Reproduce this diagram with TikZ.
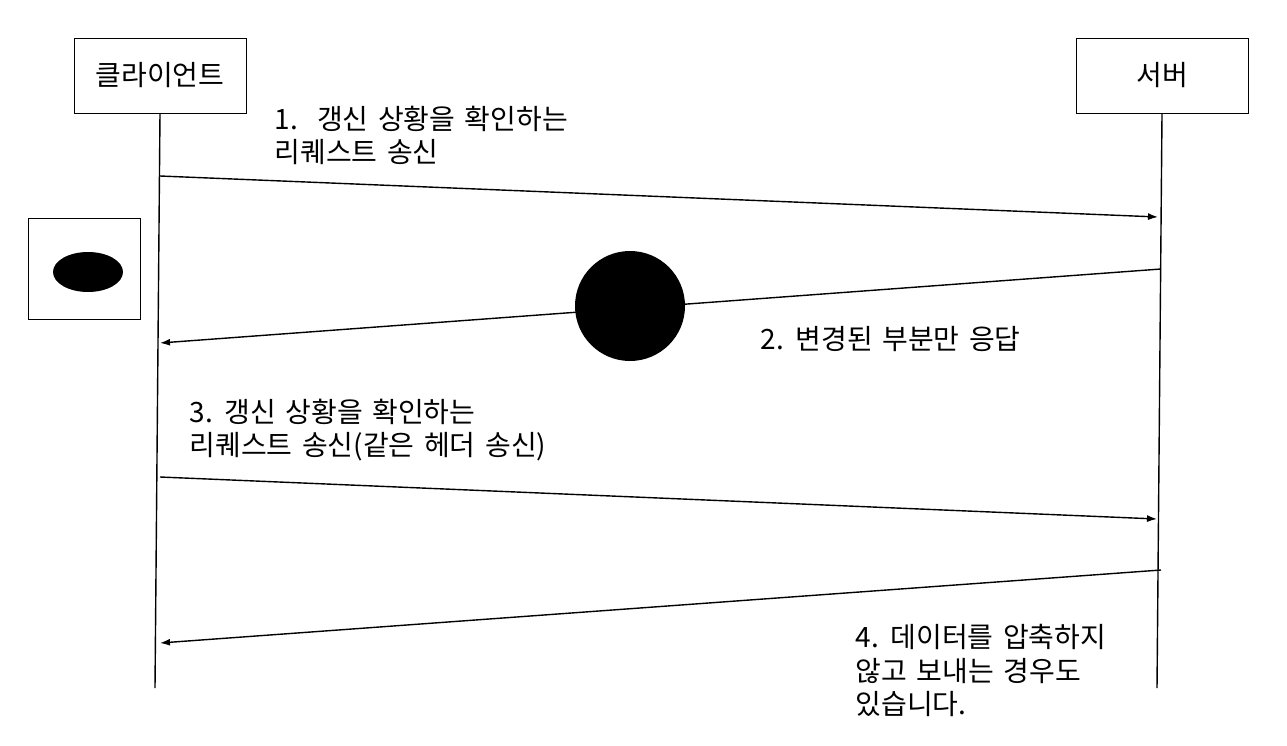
\documentclass[tikz,border=0pt]{standalone}
\usepackage{fontspec}
\setmainfont{Noto Sans CJK KR}
\usetikzlibrary{arrows.meta}
\newcommand\notefont{\fontsize{28}{33.5}\selectfont\spaceskip 9.5pt\relax}
\tikzset{
    actor/.style={draw,line width=0.8pt,minimum width=172pt,minimum height=75pt,inner sep=0pt,
        font=\fontsize{28}{33}\selectfont},
    msg/.style={line width=1.4pt,-{Latex[length=10pt,width=7pt]}},
    note/.style={align=left,anchor=north west,inner sep=0pt,font=\notefont}
}
\begin{document}
\begin{tikzpicture}[x=1pt,y=-1pt,line width=1.4pt]
    \useasboundingbox (0,0) rectangle (1287,746);

    \node[actor] (client) at (160,75.5) {클라이언트};
    \node[actor] (server) at (1162,75.5) {서버};
    \coordinate (clientend) at (155,688);
    \coordinate (serverend) at (1157,688);
    \draw (client.south) -- (clientend);
    \draw (server.south) -- (serverend);

    % message end points on the lifelines
    \coordinate (c1) at (160,176);   \coordinate (s1) at (1158,217);
    \coordinate (s2) at (1161,269);  \coordinate (c2) at (160,343);
    \coordinate (c3) at (160,477);   \coordinate (s3) at (1157,519);
    \coordinate (s4) at (1161,570);  \coordinate (c4) at (160,643);
    \foreach \a/\b in {c1/s1,s2/c2,c3/s3,s4/c4} {
        \draw[msg] (\a) -- (\b);
    }

    \node[draw,line width=0.8pt,minimum width=112pt,minimum height=101pt] (legend) at (84,268.5) {};
    \fill (legend.center) ++(4,3.5) circle[x radius=35,y radius=20];
    \fill (630,306) circle[radius=55];

    \node[note] (m1) at (274,105) {1.\ \ 갱신 상황을 확인하는\\리퀘스트 송신};
    \node[note] (m2) at (760,326) {2. 변경된 부분만 응답};
    \node[note] (m3) at (189,398) {3. 갱신 상황을 확인하는\\리퀘스트 송신(같은 헤더 송신)};
    \node[note] (m4) at (855,624) {4. 데이터를 압축하지\\않고 보내는 경우도\\있습니다.};
\end{tikzpicture}
\end{document}
